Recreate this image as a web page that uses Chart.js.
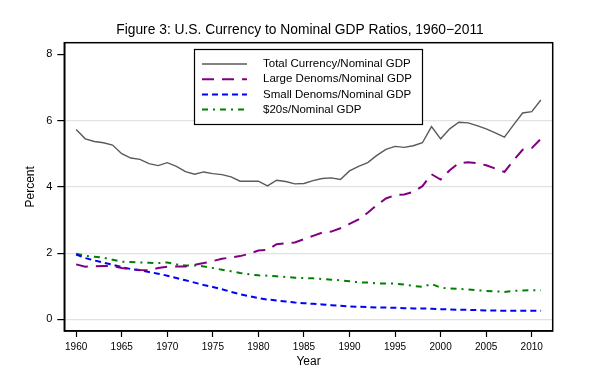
<!DOCTYPE html>
<html>
<head>
<meta charset="utf-8">
<script src="https://cdn.jsdelivr.net/npm/chart.js@4.4.1/dist/chart.umd.min.js"></script>
<style>
  html, body { margin: 0; padding: 0; background: #fff; }
</style>
</head>
<body>
<canvas id="chart" width="600" height="368"></canvas>
<script>
const YEARS = [
  1960, 1961, 1962, 1963, 1964, 1965, 1966, 1967, 1968, 1969,
  1970, 1971, 1972, 1973, 1974, 1975, 1976, 1977, 1978, 1979,
  1980, 1981, 1982, 1983, 1984, 1985, 1986, 1987, 1988, 1989,
  1990, 1991, 1992, 1993, 1994, 1995, 1996, 1997, 1998, 1999,
  2000, 2001, 2002, 2003, 2004, 2005, 2006, 2007, 2008, 2009,
  2010, 2011,
];

const TOTAL = [
  5.73, 5.45, 5.37, 5.33, 5.26, 5.00, 4.87, 4.83, 4.70, 4.64,
  4.73, 4.62, 4.46, 4.38, 4.45, 4.40, 4.37, 4.30, 4.17, 4.17,
  4.17, 4.03, 4.20, 4.16, 4.09, 4.10, 4.19, 4.25, 4.27, 4.22,
  4.48, 4.62, 4.73, 4.95, 5.13, 5.22, 5.19, 5.24, 5.33, 5.82,
  5.45, 5.75, 5.95, 5.93, 5.85, 5.75, 5.63, 5.50, 5.87, 6.23,
  6.27, 6.62,
];

const LARGE = [
  1.66, 1.59, 1.60, 1.61, 1.61, 1.55, 1.52, 1.49, 1.48, 1.55,
  1.59, 1.60, 1.60, 1.65, 1.70, 1.76, 1.83, 1.87, 1.91, 1.98,
  2.08, 2.10, 2.27, 2.30, 2.32, 2.42, 2.52, 2.62, 2.65, 2.75,
  2.88, 3.02, 3.22, 3.45, 3.65, 3.75, 3.77, 3.85, 4.02, 4.38,
  4.22, 4.50, 4.72, 4.74, 4.72, 4.65, 4.55, 4.45, 4.80, 5.12,
  5.17, 5.45,
];

const SMALL = [
  1.96, 1.85, 1.78, 1.71, 1.65, 1.58, 1.52, 1.48, 1.43, 1.38,
  1.32, 1.25, 1.18, 1.11, 1.04, 0.98, 0.91, 0.83, 0.76, 0.70,
  0.64, 0.60, 0.57, 0.54, 0.51, 0.49, 0.47, 0.45, 0.43, 0.41,
  0.39, 0.38, 0.37, 0.36, 0.36, 0.35, 0.34, 0.33, 0.33, 0.32,
  0.31, 0.30, 0.29, 0.29, 0.28, 0.27, 0.27, 0.26, 0.26, 0.26,
  0.26, 0.26,
];

const TWENTIES = [
  1.98, 1.92, 1.89, 1.86, 1.80, 1.74, 1.73, 1.72, 1.71, 1.70,
  1.72, 1.66, 1.63, 1.63, 1.60, 1.55, 1.50, 1.45, 1.40, 1.36,
  1.33, 1.32, 1.30, 1.28, 1.26, 1.25, 1.24, 1.22, 1.20, 1.18,
  1.15, 1.12, 1.11, 1.09, 1.08, 1.08, 1.05, 1.01, 0.98, 1.07,
  0.96, 0.93, 0.92, 0.90, 0.88, 0.86, 0.85, 0.83, 0.86, 0.87,
  0.88, 0.88,
];

const X_TICKS = [1960, 1965, 1970, 1975, 1980, 1985, 1990, 1995, 2000, 2005, 2010];
const Y_TICKS = [0, 2, 4, 6, 8];

const TITLE = "Figure 3: U.S. Currency to Nominal GDP Ratios, 1960\u22122011";
const FONT = "'Liberation Sans', Arial, Helvetica, sans-serif";

const points = (values) => values.map((v, i) => ({ x: YEARS[i], y: v }));

// title centred on the page, box round the plot area, boxed legend
const frameAndLegend = {
  id: "frameAndLegend",
  afterDatasetsDraw(chart) {
    const { ctx, chartArea } = chart;
    ctx.save();

    ctx.fillStyle = "#000";
    ctx.font = "13.8px " + FONT;
    ctx.textAlign = "center";
    ctx.textBaseline = "middle";
    ctx.fillText(TITLE, 300, 30);

    ctx.strokeStyle = "#000";
    ctx.lineWidth = 1.5;
    ctx.strokeRect(chartArea.left, chartArea.top,
      chartArea.right - chartArea.left, chartArea.bottom - chartArea.top);

    const box = { x: 194.5, y: 49.5, w: 228, h: 75 };
    ctx.fillStyle = "#fff";
    ctx.fillRect(box.x, box.y, box.w, box.h);
    ctx.lineWidth = 1.2;
    ctx.strokeRect(box.x, box.y, box.w, box.h);

    ctx.font = "11.5px " + FONT;
    ctx.textAlign = "left";
    chart.data.datasets.forEach((ds, i) => {
      const y = 64 + i * 15.2;
      ctx.beginPath();
      ctx.setLineDash(ds.borderDash || []);
      ctx.strokeStyle = ds.borderColor;
      ctx.lineWidth = ds.borderWidth;
      ctx.moveTo(202, y);
      ctx.lineTo(247, y);
      ctx.stroke();
      ctx.setLineDash([]);
      ctx.fillStyle = "#000";
      ctx.fillText(ds.label, 263, y);
    });
    ctx.restore();
  },
};

const chart = new Chart(document.getElementById("chart").getContext("2d"), {
  type: "line",
  data: {
    datasets: [
      {
        label: "Total Currency/Nominal GDP",
        data: points(TOTAL),
        borderColor: "#5a5a5a",
        borderWidth: 1.4,
      },
      {
        label: "Large Denoms/Nominal GDP",
        data: points(LARGE),
        borderColor: "#800080",
        borderWidth: 2,
        borderDash: [12, 8],
      },
      {
        label: "Small Denoms/Nominal GDP",
        data: points(SMALL),
        borderColor: "#0000ff",
        borderWidth: 2,
        borderDash: [6, 4],
      },
      {
        label: "$20s/Nominal GDP",
        data: points(TWENTIES),
        borderColor: "#008000",
        borderWidth: 2,
        borderDash: [6, 5, 2, 5],
      },
    ],
  },
  options: {
    responsive: false,
    animation: false,
    layout: { padding: { left: 0, right: 47.3, top: 42.7, bottom: 0 } },
    elements: {
      point: { radius: 0 },
      line: { tension: 0, fill: false },
    },
    plugins: {
      legend: { display: false },
      tooltip: { enabled: false },
      title: { display: false },
    },
    scales: {
      x: {
        type: "linear",
        min: 1958.7,
        max: 2012.3,
        afterBuildTicks: (scale) => {
          scale.ticks = X_TICKS.map((v) => ({ value: v }));
        },
        afterFit: (scale) => {
          scale.height = 37;
        },
        grid: { drawOnChartArea: false, tickLength: 6, tickColor: "#000", tickWidth: 1.2 },
        border: { color: "#000", width: 1.5 },
        ticks: {
          color: "#000",
          font: { family: FONT, size: 10 },
          padding: 4,
          maxRotation: 0,
          autoSkip: false,
          callback: (v) => String(v),
        },
        title: {
          display: true,
          text: "Year",
          color: "#000",
          font: { family: FONT, size: 12, lineHeight: 1 },
          padding: { top: 0, bottom: 0 },
        },
      },
      y: {
        min: -0.35,
        max: 8.35,
        afterBuildTicks: (scale) => {
          scale.ticks = Y_TICKS.map((v) => ({ value: v }));
        },
        afterFit: (scale) => {
          scale.width = 64.3;
        },
        grid: {
          color: (ctx) => (ctx.tick && ctx.tick.value === 8 ? "rgba(0,0,0,0)" : "#e2e2e2"),
          lineWidth: 1.2,
          tickColor: "#000",
          tickLength: 7,
          tickWidth: 1.2,
        },
        border: { color: "#000", width: 1.5 },
        ticks: {
          color: "#000",
          font: { family: FONT, size: 11 },
          padding: 5,
          callback: (v) => String(v),
        },
        title: {
          display: true,
          text: "Percent",
          color: "#000",
          font: { family: FONT, size: 12 },
          padding: { top: 23, bottom: 0 },
        },
      },
    },
  },
  plugins: [frameAndLegend],
});
</script>
</body>
</html>
